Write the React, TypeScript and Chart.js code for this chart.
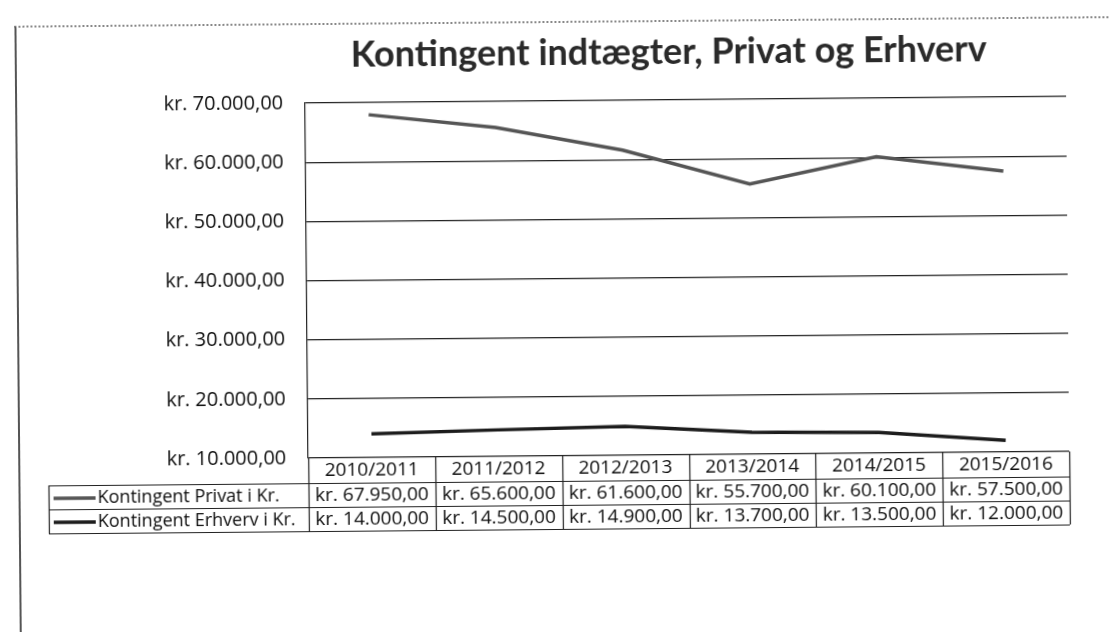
import React, { useEffect, useRef } from "react";
import { Chart, registerables } from "chart.js";

Chart.register(...registerables);

const TITLE = "Kontingent indtægter, Privat og Erhverv";
const categories = ["2010/2011", "2011/2012", "2012/2013", "2013/2014", "2014/2015", "2015/2016"];
const privatValues = [67950, 65600, 61600, 55700, 60100, 57500];
const erhvervValues = [14000, 14500, 14900, 13700, 13500, 12000];
const seriesNames = ["Kontingent Privat i Kr.", "Kontingent Erhverv i Kr."];
const seriesColors = ["#555555", "#1c1c1c"];
const yMin = 10000;
const yMax = 70000;
const yStep = 10000;

const FONT = "'Open Sans', 'Noto Sans', sans-serif";
const TITLE_FONT = "Lato, 'Open Sans', sans-serif";
const INK = "#0d0d0d";

function formatKr(v: number): string {
  const abs = Math.abs(v);
  const int = Math.floor(abs);
  const dec = Math.round((abs - int) * 100);
  const s = String(int).replace(/\B(?=(\d{3})+(?!\d))/g, ".");
  return "kr. " + s + "," + String(dec).padStart(2, "0");
}

const ROW_H = 24;
const LEGEND_LEFT = 47;

const titlePlugin = {
  id: "customTitle",
  afterDraw(chart: any) {
    const { ctx } = chart;
    ctx.save();
    ctx.font = "bold 36px " + TITLE_FONT;
    ctx.fillStyle = "#2a2a2a";
    ctx.textAlign = "center";
    ctx.textBaseline = "middle";
    ctx.fillText(TITLE, 671, 53);
    ctx.restore();
  },
};

const dataTablePlugin = {
  id: "dataTable",
  afterDraw(chart: any) {
    const { ctx, chartArea, scales } = chart;
    const x = scales.x;
    const labels = chart.data.labels as string[];
    const n = labels.length;
    const colW = (x.right - x.left) / n;
    const headerTop = chartArea.bottom;
    const headerBottom = x.bottom;
    const sets = chart.data.datasets;
    const tableBottom = headerBottom + sets.length * ROW_H;

    ctx.save();
    ctx.strokeStyle = "#222";
    ctx.lineWidth = 1.2;
    ctx.beginPath();
    for (let k = 0; k <= n; k++) {
      const px = Math.round(x.left + k * colW) + 0.5;
      ctx.moveTo(px, headerTop);
      ctx.lineTo(px, tableBottom);
    }
    ctx.moveTo(LEGEND_LEFT + 0.5, headerBottom);
    ctx.lineTo(LEGEND_LEFT + 0.5, tableBottom);
    for (let r = 0; r <= sets.length; r++) {
      const py = Math.round(headerBottom + r * ROW_H) + 0.5;
      ctx.moveTo(LEGEND_LEFT, py);
      ctx.lineTo(x.right, py);
    }
    ctx.stroke();

    ctx.fillStyle = INK;
    ctx.textBaseline = "middle";
    sets.forEach((ds: any, r: number) => {
      const cy = headerBottom + r * ROW_H + ROW_H / 2 + 1;
      ctx.strokeStyle = ds.borderColor;
      ctx.lineWidth = 3.5;
      ctx.beginPath();
      ctx.moveTo(LEGEND_LEFT + 5, cy);
      ctx.lineTo(LEGEND_LEFT + 47, cy);
      ctx.stroke();
      ctx.font = "18px " + FONT;
      ctx.textAlign = "left";
      ctx.fillText(ds.label, LEGEND_LEFT + 49, cy);
      ctx.font = "19px " + FONT;
      ctx.textAlign = "center";
      (ds.data as number[]).forEach((v, i) => {
        ctx.fillText(formatKr(v), x.left + (i + 0.5) * colW, cy);
      });
    });
    ctx.restore();
  },
};

export default function App() {
  const canvasRef = useRef<HTMLCanvasElement | null>(null);

  useEffect(() => {
    if (!canvasRef.current) return;
    const chart = new Chart(canvasRef.current, {
      type: "line",
      data: {
        labels: categories,
        datasets: [
          {
            label: seriesNames[0],
            data: privatValues,
            borderColor: seriesColors[0],
            backgroundColor: seriesColors[0],
            borderWidth: 3.5,
            pointRadius: 0,
            tension: 0,
          },
          {
            label: seriesNames[1],
            data: erhvervValues,
            borderColor: seriesColors[1],
            backgroundColor: seriesColors[1],
            borderWidth: 3.5,
            pointRadius: 0,
            tension: 0,
          },
        ],
      },
      options: {
        animation: false,
        responsive: true,
        maintainAspectRatio: false,
        layout: { padding: { left: 107, right: 41, top: 101, bottom: 151 } },
        plugins: {
          legend: { display: false },
          tooltip: { enabled: false },
          title: { display: false },
        },
        scales: {
          x: {
            offset: true,
            grid: { display: false, drawTicks: false },
            border: { display: false },
            ticks: {
              color: INK,
              font: { family: FONT, size: 19 },
              padding: 1,
              maxRotation: 0,
              autoSkip: false,
            },
            afterFit: (s: any) => {
              s.height = 25;
            },
          },
          y: {
            min: yMin,
            max: yMax,
            grid: { color: "#222", lineWidth: 1.2, drawTicks: false },
            border: { display: true, color: "#222", width: 1.2 },
            ticks: {
              stepSize: yStep,
              color: INK,
              font: { family: FONT, size: 20 },
              padding: 22,
              callback: (v: any) => formatKr(Number(v)),
            },
            afterFit: (s: any) => {
              s.width = 200;
            },
          },
        },
      },
      plugins: [dataTablePlugin, titlePlugin],
    });
    return () => chart.destroy();
  }, []);

  return (
    <div style={{ position: "fixed", left: 0, top: 0, width: 1109, height: 632, background: "#fff", overflow: "hidden" }}>
      <div style={{ position: "absolute", left: 0, top: 0, width: 1109, height: 632, transform: "rotate(-0.5deg)" }}>
        <div
          style={{
            position: "absolute",
            left: 17,
            top: 21,
            width: 1200,
            height: 700,
            borderTop: "2px dotted #888",
            borderLeft: "2px solid #555",
          }}
        />
        <canvas ref={canvasRef} style={{ position: "absolute", left: 0, top: 0, width: 1109, height: 632 }} />
      </div>
    </div>
  );
}
